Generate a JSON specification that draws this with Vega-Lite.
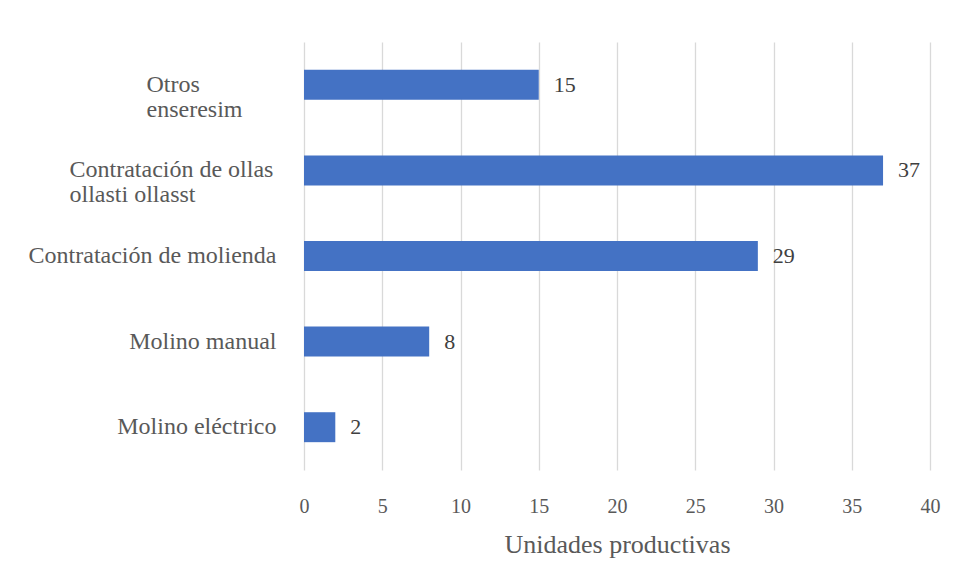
{
  "$schema": "https://vega.github.io/schema/vega-lite/v6.json",
  "width": 626,
  "height": 428,
  "autosize": {"type": "none"},
  "padding": {"left": 304, "top": 42, "right": 30, "bottom": 110},
  "background": "white",
  "config": {
    "view": {"stroke": null},
    "font": "Liberation Serif",
    "text": {"font": "Liberation Serif"}
  },
  "data": {
    "values": [
      {"categoria": "Otros enseresim", "unidades": 15},
      {"categoria": "Contratación de ollas ollasti ollasst", "unidades": 37},
      {"categoria": "Contratación de molienda", "unidades": 29},
      {"categoria": "Molino manual", "unidades": 8},
      {"categoria": "Molino eléctrico", "unidades": 2}
    ]
  },
  "encoding": {
    "y": {
      "field": "categoria",
      "type": "nominal",
      "sort": null,
      "scale": {"paddingInner": 0.65, "paddingOuter": 0.325},
      "axis": {
        "title": null,
        "domain": false,
        "ticks": false,
        "labelFont": "Liberation Serif",
        "labelFontSize": 24,
        "labelColor": "#595959",
        "labelLimit": 400,
        "labelLineHeight": 25,
        "labelExpr": "datum.value == 'Otros enseresim' ? ['Otros', 'enseresim'] : datum.value == 'Contratación de ollas ollasti ollasst' ? ['Contratación de ollas', 'ollasti ollasst'] : datum.value",
        "labelAlign": {
          "condition": {"test": "datum.value == 'Otros enseresim' || datum.value == 'Contratación de ollas ollasti ollasst'", "value": "left"},
          "value": "right"
        },
        "labelPadding": {
          "condition": [
            {"test": "datum.value == 'Otros enseresim'", "value": 158},
            {"test": "datum.value == 'Contratación de ollas ollasti ollasst'", "value": 235}
          ],
          "value": 28
        }
      }
    }
  },
  "layer": [
    {
      "mark": {"type": "bar", "color": "#4472C4"},
      "encoding": {
        "x": {
          "field": "unidades",
          "type": "quantitative",
          "scale": {"domain": [0, 40], "nice": false},
          "axis": {
            "title": "Unidades productivas",
            "values": [0, 5, 10, 15, 20, 25, 30, 35, 40],
            "domain": false,
            "ticks": false,
            "grid": true,
            "gridColor": "#D9D9D9",
            "gridWidth": 1.3,
            "labelFlush": false,
            "labelFont": "Liberation Serif",
            "labelFontSize": 20,
            "labelColor": "#595959",
            "labelPadding": 26,
            "titleFont": "Liberation Serif",
            "titleFontSize": 26,
            "titleFontWeight": "normal",
            "titleColor": "#595959",
            "titlePadding": 15
          }
        }
      }
    },
    {
      "mark": {"type": "text", "align": "left", "baseline": "middle", "dx": 15, "fontSize": 22, "color": "#404040", "font": "Liberation Serif"},
      "encoding": {
        "x": {"field": "unidades", "type": "quantitative"},
        "text": {"field": "unidades", "type": "quantitative"}
      }
    }
  ]
}
